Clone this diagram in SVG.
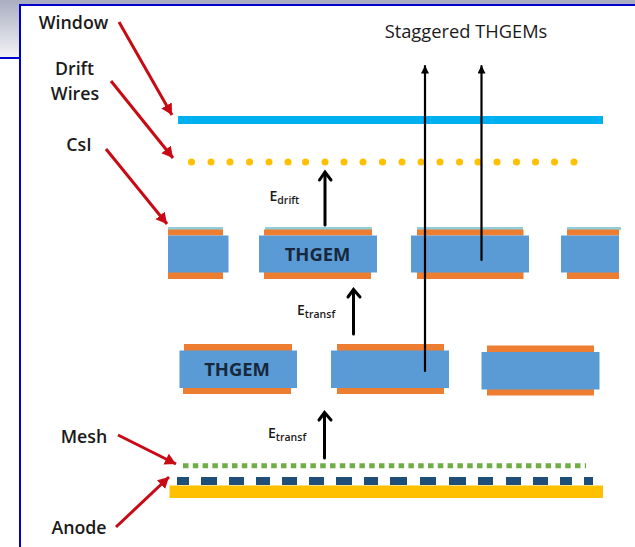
<svg xmlns="http://www.w3.org/2000/svg" width="635" height="547" viewBox="0 0 635 547">
<style>
text{font-family:"Open Sans","Noto Sans","Liberation Sans",sans-serif;fill:#1a1a1a}
.lb{font-size:17.800px;font-weight:600;text-anchor:middle}
.th{font-size:18.400px;font-weight:700;text-anchor:middle;fill:#17283c}
.e{font-size:14px;font-weight:600}
.e tspan{font-size:10.500px}
.b{fill:#5B9BD5}
.o{fill:#ED7D31}
.c{fill:#92CDDC}
.red{stroke:#C80A14;stroke-width:3;fill:none;marker-end:url(#ra)}
.blk{stroke:#000;fill:none;stroke-linecap:round}
.fine{stroke-width:2.2;marker-end:url(#ba)}
.open{stroke-width:3}
.hd{stroke:#000;stroke-width:3;fill:none;stroke-linecap:round;stroke-linejoin:miter}
.wd{fill:#FFC000}
.an{fill:#1F4E79}
</style>
<defs>
<linearGradient id="g" x1="0" y1="0" x2="0" y2="1"><stop offset="0" stop-color="#a9adc0"/><stop offset="1" stop-color="#f4f4f7"/></linearGradient>
<marker id="ra" markerUnits="userSpaceOnUse" markerWidth="14" markerHeight="14" refX="11" refY="6" orient="auto"><path d="M0 0L11 6L0 12z" fill="#C80A14"/></marker>
<marker id="ba" markerUnits="userSpaceOnUse" markerWidth="10" markerHeight="10" refX="7.500" refY="4" orient="auto"><path d="M0 0L8 4L0 8z" fill="#000"/></marker>
</defs>
<rect width="635" height="547" fill="#fff"/>
<g id="frame">
<rect x="0" y="0" width="635" height="5" fill="#a9adc0"/>
<rect x="0" y="0" width="19" height="58" fill="url(#g)"/>
<path d="M635 5H20V547M0 58H20" fill="none" stroke="#0000CD" stroke-width="2"/>
</g>
<g id="window"><rect x="178" y="116" width="425" height="8" fill="#00B0F0"/></g>
<g id="drift-wires" class="wd">
<circle cx="191.500" cy="162" r="3.500"/><circle cx="211" cy="162" r="3.500"/><circle cx="230" cy="162" r="3.500"/><circle cx="249.500" cy="162" r="3.500"/><circle cx="269" cy="162" r="3.500"/><circle cx="288" cy="162" r="3.500"/><circle cx="305.500" cy="162" r="3.500"/><circle cx="325" cy="162" r="3.500"/><circle cx="344" cy="162" r="3.500"/><circle cx="363" cy="162" r="3.500"/><circle cx="382.500" cy="162" r="3.500"/><circle cx="402" cy="162" r="3.500"/><circle cx="421" cy="162" r="3.500"/><circle cx="440" cy="162" r="3.500"/><circle cx="459.500" cy="162" r="3.500"/><circle cx="478" cy="162" r="3.500"/><circle cx="497" cy="162" r="3.500"/><circle cx="516.500" cy="162" r="3.500"/><circle cx="535.500" cy="162" r="3.500"/><circle cx="554.500" cy="162" r="3.500"/><circle cx="574" cy="162" r="3.500"/>
</g>
<g id="thgem-1-1"><rect class="c" x="168" y="227" width="55" height="3"/><rect class="o" x="168" y="229.500" width="55" height="6"/><rect class="o" x="168" y="272" width="55" height="7"/><rect class="b" x="168" y="235.500" width="60.500" height="37"/></g>
<g id="thgem-1-2"><rect class="c" x="265" y="227" width="107" height="3"/><rect class="o" x="264" y="229.500" width="108" height="6"/><rect class="o" x="264" y="272" width="107" height="7"/><rect class="b" x="259" y="235.500" width="118" height="37"/><text class="th" x="317.500" y="261">THGEM</text></g>
<g id="thgem-1-3"><rect class="c" x="417" y="227" width="106" height="3"/><rect class="o" x="417" y="229.500" width="106.500" height="6"/><rect class="o" x="417" y="272" width="106.500" height="7"/><rect class="b" x="411" y="235.500" width="118" height="37"/></g>
<g id="thgem-1-4"><rect class="c" x="567" y="227" width="54" height="3"/><rect class="o" x="567" y="229.500" width="52" height="6"/><rect class="o" x="567" y="272" width="52" height="7"/><rect class="b" x="561" y="235.500" width="58" height="37"/></g>
<g id="thgem-2-1"><rect class="o" x="184" y="344" width="108" height="7"/><rect class="o" x="183" y="387" width="108" height="7"/><rect class="b" x="179.500" y="350.500" width="117.500" height="37.500"/><text class="th" x="237" y="376">THGEM</text></g>
<g id="thgem-2-2"><rect class="o" x="337" y="344" width="107" height="7"/><rect class="o" x="337" y="387" width="107" height="7"/><rect class="b" x="331" y="350.500" width="118" height="37.500"/></g>
<g id="thgem-2-3"><rect class="o" x="487" y="345.500" width="107" height="7"/><rect class="o" x="487" y="388.500" width="107" height="7"/><rect class="b" x="481.500" y="352" width="118" height="37.500"/></g>
<g id="mesh"><line x1="183" y1="465.800" x2="586" y2="465.800" stroke="#70AD47" stroke-width="5" stroke-dasharray="5.500 4.300"/></g>
<g id="anode-strips" class="an">
<rect x="177" y="477" width="12" height="8"/><rect x="201" y="477" width="16" height="8"/><rect x="229" y="477" width="15" height="8"/><rect x="256" y="477" width="14" height="8"/><rect x="282" y="477" width="15" height="8"/><rect x="309" y="477" width="15" height="8"/><rect x="336" y="477" width="16" height="8"/><rect x="364" y="477" width="14" height="8"/><rect x="390" y="477" width="17" height="8"/><rect x="420" y="477" width="16" height="8"/><rect x="449" y="477" width="17" height="8"/><rect x="478" y="477" width="15" height="8"/><rect x="506" y="477" width="15" height="8"/><rect x="533" y="477" width="15" height="8"/><rect x="560" y="477" width="12" height="8"/><rect x="584" y="477" width="9" height="8"/>
</g>
<g id="anode"><rect x="169.500" y="485.500" width="433.500" height="12.500" fill="#FFC000"/></g>
<g id="connectors">
<line class="red" x1="119" y1="22" x2="172" y2="115"/>
<line class="red" x1="111" y1="81" x2="173" y2="158"/>
<line class="red" x1="106" y1="149" x2="167" y2="224"/>
<line class="red" x1="118" y1="435" x2="176" y2="464"/>
<line class="red" x1="116" y1="527" x2="169" y2="477"/>
<line class="blk fine" x1="425" y1="371" x2="425" y2="66"/>
<line class="blk fine" x1="481.500" y1="260" x2="481.500" y2="66"/>
<line class="blk open" x1="325" y1="225" x2="325" y2="173"/><path class="hd" d="M319.500 180L325 172L331 180"/>
<line class="blk open" x1="353.500" y1="334" x2="353.500" y2="291"/><path class="hd" d="M348 297L353.500 289.500L360 297"/>
<line class="blk open" x1="324.500" y1="458" x2="324.500" y2="414"/><path class="hd" d="M319 420L324.500 412.500L331 420"/>
</g>
<g id="labels">
<text class="lb" x="73.500" y="29">Window</text>
<text class="lb" x="74.500" y="75">Drift</text>
<text class="lb" x="75" y="100">Wires</text>
<text class="lb" x="79" y="151">CsI</text>
<text class="lb" x="84" y="442.500">Mesh</text>
<text class="lb" x="79" y="534">Anode</text>
<text x="466" y="37.500" text-anchor="middle" font-size="18.300" fill="#1f2d3d">Staggered THGEMs</text>
<text class="e" x="269.500" y="201">E<tspan dy="3">drift</tspan></text>
<text class="e" x="297" y="315">E<tspan dy="3">transf</tspan></text>
<text class="e" x="268" y="438">E<tspan dy="3">transf</tspan></text>
</g>
</svg>
